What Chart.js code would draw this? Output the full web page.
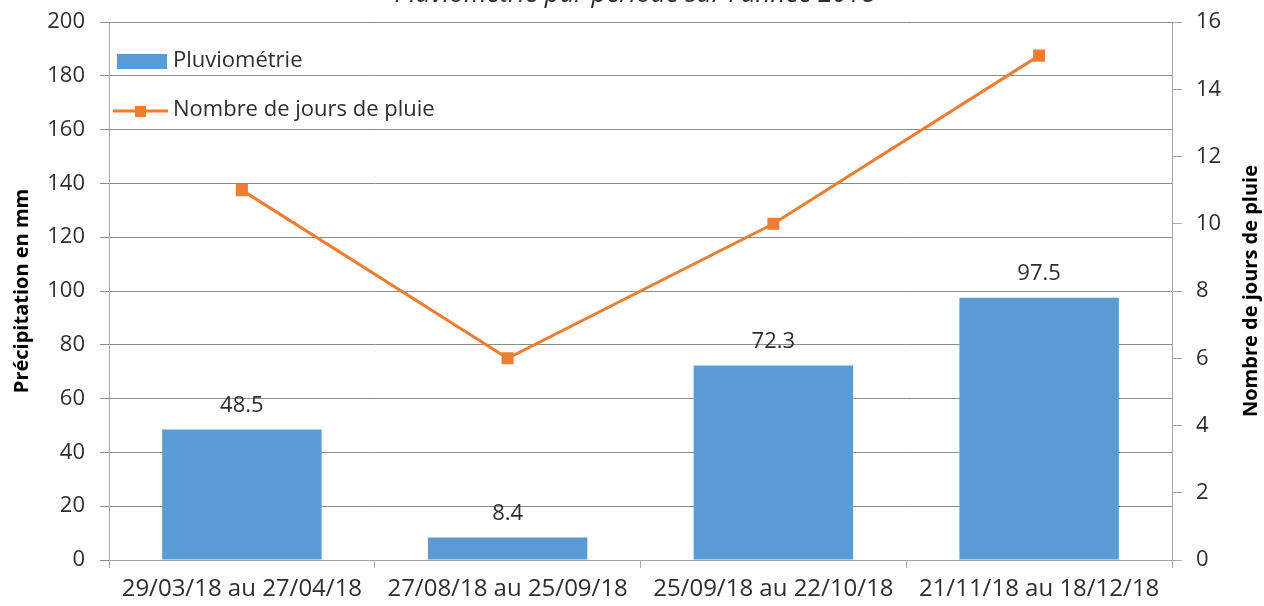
<!DOCTYPE html>
<html>
<head>
<meta charset="utf-8">
<script src="https://cdn.jsdelivr.net/npm/chart.js@4"></script>
<style>
html,body{margin:0;padding:0;background:#fff;overflow:hidden;}
canvas{display:block;}
</style>
</head>
<body>
<canvas id="c" width="1264" height="606"></canvas>
<script>
const categories = ["29/03/18 au 27/04/18", "27/08/18 au 25/09/18", "25/09/18 au 22/10/18", "21/11/18 au 18/12/18"];
const rainfall = [48.5, 8.4, 72.3, 97.5];
const rainDays = [11, 6, 10, 15];
const chartTitle = "Pluviométrie par période sur l'année 2018";
const leftAxisTitle = "Précipitation en mm";
const rightAxisTitle = "Nombre de jours de pluie";
const seriesNames = ["Pluviométrie", "Nombre de jours de pluie"];

const FONT = "'Open Sans', 'DejaVu Sans', sans-serif";
const TEXT = '#2e2e2e';
const BLUE = '#5B9BD5';
const ORANGE = '#ED7D31';
const GRID = '#8c8c8c';
const AXIS = '#a6a6a6';

const overlay = {
  id: 'overlay',
  afterDatasetsDraw(chart) {
    const ctx = chart.ctx;
    const meta = chart.getDatasetMeta(0);
    ctx.save();
    ctx.font = "22px " + FONT;
    ctx.fillStyle = TEXT;
    ctx.textAlign = 'center';
    ctx.textBaseline = 'middle';
    meta.data.forEach((el, i) => {
      ctx.fillText(String(chart.data.datasets[0].data[i]), el.x, el.y - 24);
    });
    ctx.restore();
  },
  afterDraw(chart) {
    const ctx = chart.ctx;
    const ca = chart.chartArea;
    ctx.save();
    ctx.font = "italic 26px " + FONT;
    ctx.fillStyle = TEXT;
    ctx.textAlign = 'center';
    ctx.textBaseline = 'alphabetic';
    ctx.fillText(chartTitle, chart.width / 2 + 3, ca.top - 20);

    ctx.font = "bold 20px " + FONT;
    ctx.fillStyle = '#000';
    ctx.textBaseline = 'middle';
    const cy = (ca.top + ca.bottom) / 2;
    ctx.save();
    ctx.translate(22, cy);
    ctx.rotate(-Math.PI / 2);
    ctx.fillText(leftAxisTitle, 0, 0);
    ctx.restore();
    ctx.save();
    ctx.translate(chart.width - 13, cy);
    ctx.rotate(-Math.PI / 2);
    ctx.fillText(rightAxisTitle, 0, 0);
    ctx.restore();

    const lx = ca.left + 8;
    ctx.font = "22px " + FONT;
    ctx.textAlign = 'left';
    ctx.textBaseline = 'middle';
    const y1 = ca.top + 39, y2 = ca.top + 89;
    ctx.fillStyle = chart.data.datasets[0].backgroundColor;
    ctx.fillRect(lx, y1 - 7, 50, 15);
    ctx.strokeStyle = chart.data.datasets[1].borderColor;
    ctx.lineWidth = 3;
    ctx.beginPath();
    ctx.moveTo(lx - 4, y2);
    ctx.lineTo(lx + 51, y2);
    ctx.stroke();
    ctx.fillStyle = chart.data.datasets[1].borderColor;
    ctx.fillRect(lx + 18, y2 - 5, 11, 11);
    ctx.fillStyle = TEXT;
    ctx.fillText(chart.data.datasets[0].label, lx + 56, y1);
    ctx.fillText(chart.data.datasets[1].label, lx + 56, y2 - 1);
    ctx.restore();
  }
};

function fixV(w) {
  return function (s) { s.width = w; s.paddingTop = 0; s.paddingBottom = 0; };
}

new Chart(document.getElementById('c'), {
  type: 'bar',
  data: {
    labels: categories,
    datasets: [
      {
        type: 'bar',
        label: seriesNames[0],
        data: rainfall,
        backgroundColor: BLUE,
        borderWidth: 0,
        barPercentage: 0.6,
        categoryPercentage: 1.0,
        yAxisID: 'y',
        order: 1
      },
      {
        type: 'line',
        label: seriesNames[1],
        data: rainDays,
        borderColor: ORANGE,
        backgroundColor: ORANGE,
        borderWidth: 3,
        pointStyle: 'rect',
        pointRadius: 8.5,
        pointBorderWidth: 0,
        pointBackgroundColor: ORANGE,
        tension: 0,
        yAxisID: 'y2',
        order: 0
      }
    ]
  },
  options: {
    responsive: false,
    animation: false,
    events: [],
    layout: { padding: { top: 22, left: 0, right: 0, bottom: 0 } },
    plugins: {
      legend: { display: false },
      title: { display: false },
      tooltip: { enabled: false }
    },
    scales: {
      x: {
        offset: true,
        grid: { display: true, drawOnChartArea: false, drawTicks: true, tickLength: 8, color: AXIS, offset: true },
        border: { display: true, color: AXIS },
        ticks: { font: { family: FONT, size: 24 }, color: TEXT, padding: 7, maxRotation: 0, autoSkip: false },
        afterFit(s) { s.height = 46; s.paddingLeft = 0; s.paddingRight = 0; }
      },
      y: {
        position: 'left',
        min: 0, max: 200,
        ticks: { stepSize: 20, font: { family: FONT, size: 22 }, color: TEXT, padding: 15 },
        grid: { color: GRID, tickLength: 9, drawTicks: true },
        border: { display: true, color: AXIS },
        afterFit: fixV(109)
      },
      y2: {
        position: 'right',
        min: 0, max: 16,
        ticks: { stepSize: 2, font: { family: FONT, size: 22 }, color: TEXT, padding: 14 },
        grid: { drawOnChartArea: false, tickLength: 10, color: AXIS },
        border: { display: true, color: AXIS },
        afterFit: fixV(92)
      }
    }
  },
  plugins: [overlay]
});
</script>
</body>
</html>
